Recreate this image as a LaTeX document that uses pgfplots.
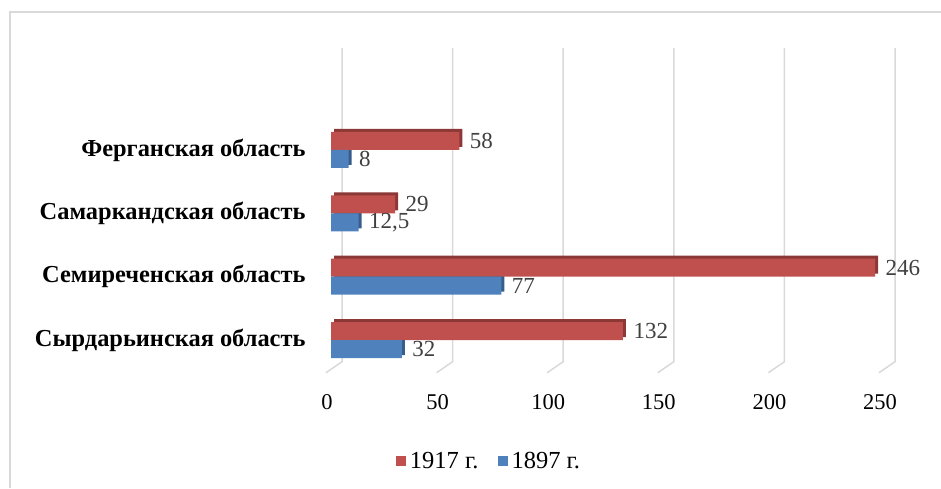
\documentclass[border=0pt]{standalone}
\usepackage{fontspec}
\setmainfont{Liberation Serif}
\usepackage{pgfplots}
\pgfplotsset{compat=1.18}
\definecolor{redbar}{HTML}{C0504D}
\definecolor{redside}{HTML}{8C3836}
\definecolor{bluebar}{HTML}{4F81BD}
\definecolor{blueside}{HTML}{385D8A}
\definecolor{gridc}{HTML}{D9D9D9}
\definecolor{txt}{HTML}{404040}
\begin{document}
\begin{tikzpicture}[x=1pt,y=1pt]
\useasboundingbox (0,0) rectangle (941,488);
\draw[gridc,line width=2pt] (10,0) -- (10,476) -- (941,476);
\begin{axis}[
  at={(331pt,116.3pt)}, anchor=south west,
  scale only axis, width=553pt, height=253.4pt,
  xmin=0, xmax=250, ymin=-0.5, ymax=3.5,
  axis lines=none,
  clip=false,
  ytick=data,
  xtick={0,50,100,150,200,250},
  xbar, bar width=18pt,
  /pgf/number format/assume math mode=true,
  every node near coord/.append style={font=\fontsize{23}{23}\selectfont, text=txt, anchor=west, xshift=7pt},
  nodes near coords={\pgfmathprintnumber[use comma,assume math mode=true]{\pgfplotspointmeta}},
  legend style={at={(489pt-331pt,27pt-116.3pt)}, anchor=center, draw=none, legend columns=2,
    font=\fontsize{24.5}{24.5}\selectfont, /tikz/every even column/.append style={column sep=17pt},
    /tikz/every odd column/.append style={column sep=2pt}},
  legend image code/.code={\fill[#1] (0pt,-5pt) rectangle (10pt,5pt);},
]
% back grid lines and floor
\pgfplotsinvokeforeach{0,50,100,150,200,250}{
  \draw[gridc,line width=1.5pt] ([xshift=-5pt,yshift=-1pt]axis cs:#1,-0.5) -- ([xshift=11pt,yshift=10pt]axis cs:#1,-0.5) -- ([xshift=11pt]axis cs:#1,4.61);
  \node[font=\fontsize{22.5}{22.5}\selectfont, text=black] at ([xshift=-4pt,yshift=-30pt]axis cs:#1,-0.5) {#1};
}
% 3D side/top shadows
\addplot[xbar, bar shift=9pt, fill=redside, draw=none, xshift=3pt, yshift=3pt, nodes near coords={}, forget plot]
  coordinates {(132,0) (246,1) (29,2) (58,3)};
\addplot[xbar, bar shift=-9pt, fill=blueside, draw=none, xshift=3pt, yshift=3pt, nodes near coords={}, forget plot]
  coordinates {(32,0) (77,1) (12.5,2) (8,3)};
\addplot[xbar, bar shift=9pt, fill=redbar, draw=none]
  coordinates {(132,0) (246,1) (29,2) (58,3)};
\addplot[xbar, bar shift=-9pt, fill=bluebar, draw=none]
  coordinates {(32,0) (77,1) (12.5,2) (8,3)};
\legend{1917 г.,1897 г.}
\node[font=\bfseries\fontsize{24.4}{24.4}\selectfont, anchor=east] at ([xshift=-22pt]axis cs:0,0) {Сырдарьинская область};
\node[font=\bfseries\fontsize{24.4}{24.4}\selectfont, anchor=east] at ([xshift=-22pt]axis cs:0,1) {Семиреченская область};
\node[font=\bfseries\fontsize{24.4}{24.4}\selectfont, anchor=east] at ([xshift=-22pt]axis cs:0,2) {Самаркандская область};
\node[font=\bfseries\fontsize{24.4}{24.4}\selectfont, anchor=east] at ([xshift=-22pt]axis cs:0,3) {Ферганская область};
\end{axis}
\end{tikzpicture}
\end{document}
